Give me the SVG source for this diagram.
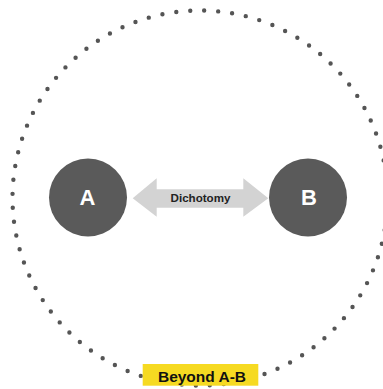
<svg xmlns="http://www.w3.org/2000/svg" width="383" height="389" viewBox="0 0 383 389">
  <style>
    .node { fill: #5a5a5a; }
    .node-label { font-family: "Liberation Sans", Arial, sans-serif; font-weight: bold; font-size: 22px; fill: #ffffff; text-anchor: middle; }
    .link { fill: #d3d3d3; }
    .link-label { font-family: "Liberation Sans", Arial, sans-serif; font-weight: bold; font-size: 11.6px; fill: #222222; text-anchor: middle; }
    .ring { fill: none; stroke: #555555; stroke-width: 4.4; stroke-linecap: round; stroke-dasharray: 0 1; stroke-dashoffset: -0.3; }
    .tag { fill: #f6da22; }
    .tag-label { font-family: "Liberation Sans", Arial, sans-serif; font-weight: bold; font-size: 15.5px; fill: #111111; text-anchor: middle; }
  </style>

  <rect width="383" height="389" fill="#ffffff"/>

  <!-- dotted boundary around both poles -->
  <g id="boundary">
    <circle class="ring" cx="200" cy="198" r="187.5" pathLength="84"/>
  </g>

  <!-- connectors -->
  <g id="connectors">
    <polygon class="link" points="132.7,198.3 156.7,178.3 156.7,189.3 243.3,189.3 243.3,178.3 268.3,198.3 243.3,216.7 243.3,207.7 156.7,207.7 156.7,216.7"/>
    <text class="link-label" x="200.5" y="202.3">Dichotomy</text>
  </g>

  <g id="node-a">
    <circle class="node" cx="88" cy="197.5" r="39"/>
    <text class="node-label" x="87.5" y="205">A</text>
  </g>

  <g id="node-b">
    <circle class="node" cx="308" cy="197.5" r="39"/>
    <text class="node-label" x="309" y="205">B</text>
  </g>

  <g id="beyond">
    <rect class="tag" x="142.7" y="364" width="115.6" height="21.7"/>
    <text class="tag-label" x="202" y="381.7">Beyond A-B</text>
  </g>
</svg>
